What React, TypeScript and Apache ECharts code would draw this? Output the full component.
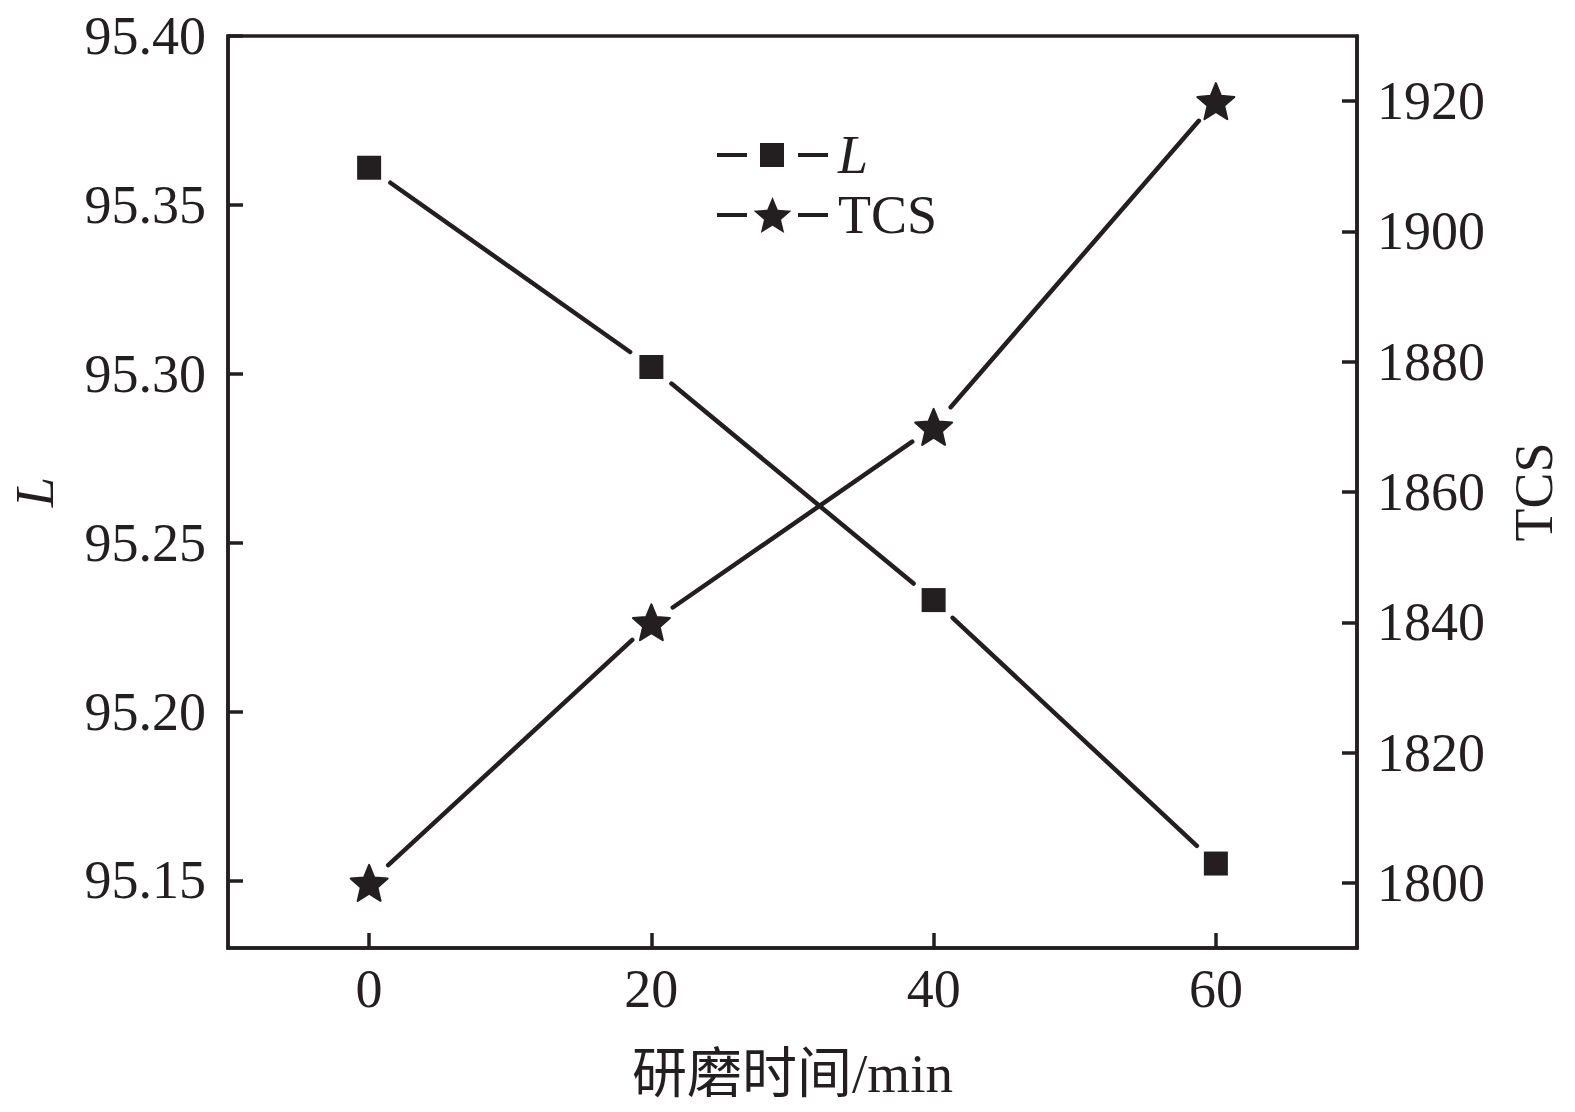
import React, { useEffect, useRef } from "react";
import * as echarts from "echarts";

const times = [0, 20, 40, 60];
const lValues = [95.361, 95.302, 95.233, 95.155];
const tcsValues = [1800, 1840, 1870, 1920];
const xTicks = [0, 20, 40, 60];
const leftTicks = [95.15, 95.2, 95.25, 95.3, 95.35, 95.4];
const rightTicks = [1800, 1820, 1840, 1860, 1880, 1900, 1920];
const xTitle = "研磨时间/min";
const leftTitle = "L";
const rightTitle = "TCS";

const INK = "#231f20";
const FONT = "'Liberation Serif', 'Times New Roman', 'Noto Sans CJK SC', serif";
const GAP = 26;

const STAR =
  "path://M55.5,0 L60.77,12.65 L74.43,13.75 L64.02,22.67 L67.2,36 L55.5,28.86 L43.8,36 L46.98,22.67 L36.57,13.75 L50.23,12.65 Z";
const LEG_SQUARE =
  "path://M0,10 L30,10 L30,14 L0,14 Z M43,0 L67,0 L67,24 L43,24 Z M81,10 L111,10 L111,14 L81,14 Z";
const LEG_STAR =
  "path://M0,16 L30,16 L30,20 L0,20 Z M55.5,0 L60.77,12.65 L74.43,13.75 L64.02,22.67 L67.2,36 L55.5,28.86 L43.8,36 L46.98,22.67 L36.57,13.75 L50.23,12.65 Z M81,16 L111,16 L111,20 L81,20 Z";

function segments(xs: number[], ys: number[]) {
  const out: number[][] = [];
  for (let i = 0; i < xs.length - 1; i++) out.push([xs[i], ys[i], xs[i + 1], ys[i + 1]]);
  return out;
}

function gapLine(params: any, api: any) {
  const a = api.coord([api.value(0), api.value(1)]);
  const b = api.coord([api.value(2), api.value(3)]);
  const dx = b[0] - a[0];
  const dy = b[1] - a[1];
  const len = Math.sqrt(dx * dx + dy * dy);
  const ux = dx / len;
  const uy = dy / len;
  return {
    type: "line",
    shape: {
      x1: a[0] + ux * GAP,
      y1: a[1] + uy * GAP,
      x2: b[0] - ux * GAP,
      y2: b[1] - uy * GAP,
    },
    style: { stroke: INK, lineWidth: 4.5, lineCap: "round" },
  };
}

const axisCommon = {
  axisLine: { show: true, onZero: false, lineStyle: { color: INK, width: 3.5 } },
  axisTick: { show: true, inside: true, length: 15, lineStyle: { color: INK, width: 3.5 } },
  splitLine: { show: false },
  nameTextStyle: { color: INK, fontFamily: FONT, fontSize: 54 },
};

export default function App() {
  const ref = useRef<HTMLDivElement>(null);
  useEffect(() => {
    if (!ref.current) return;
    const chart = echarts.init(ref.current, null, { renderer: "svg" });
    const lPoints = times.map((t, i) => [t, lValues[i]]);
    const tPoints = times.map((t, i) => [t, tcsValues[i]]);
    chart.setOption({
      animation: false,
      backgroundColor: "#ffffff",
      textStyle: { fontFamily: FONT, color: INK },
      grid: {
        left: 225,
        top: 36,
        right: 218,
        bottom: 164,
        show: true,
        borderColor: INK,
        borderWidth: 3.5,
        backgroundColor: "transparent",
      },
      legend: [
        {
          data: [{ name: "L", icon: LEG_SQUARE }],
          left: 712,
          top: 123,
          itemWidth: 111,
          itemHeight: 24,
          formatter: () => "{i|" + leftTitle + "}",
          textStyle: {
            color: INK,
            fontFamily: FONT,
            fontSize: 54,
            rich: { i: { fontStyle: "italic", fontFamily: FONT, fontSize: 54, color: INK, padding: [0, 0, 0, 5] } },
          },
          itemStyle: { color: INK, borderWidth: 0 },
        },
        {
          data: [{ name: "TCS", icon: LEG_STAR }],
          left: 712,
          top: 183,
          itemWidth: 111,
          itemHeight: 36,
          textStyle: { color: INK, fontFamily: FONT, fontSize: 54, padding: [0, 0, 0, 5] },
          itemStyle: { color: INK, borderWidth: 0 },
        },
      ],
      xAxis: {
        type: "value",
        min: -10,
        max: 70,
        ...axisCommon,
        axisTick: { ...axisCommon.axisTick, customValues: xTicks },
        axisLabel: {
          customValues: xTicks,
          color: INK,
          fontFamily: FONT,
          fontSize: 54,
          margin: 14,
        },
        name: xTitle,
        nameLocation: "middle",
        nameGap: 98,
        nameTextStyle: { ...axisCommon.nameTextStyle, fontSize: 55 },
      },
      yAxis: [
        {
          type: "value",
          position: "left",
          min: 95.13,
          max: 95.4,
          ...axisCommon,
          axisTick: { ...axisCommon.axisTick, customValues: leftTicks },
          axisLabel: {
            customValues: leftTicks,
            formatter: (v: number) => v.toFixed(2),
            color: INK,
            fontFamily: FONT,
            fontSize: 54,
            margin: 22,
          },
          name: leftTitle,
          nameLocation: "middle",
          nameGap: 166,
          nameTextStyle: { ...axisCommon.nameTextStyle, fontStyle: "italic" },
        },
        {
          type: "value",
          position: "right",
          min: 1790,
          max: 1930,
          ...axisCommon,
          axisTick: { ...axisCommon.axisTick, customValues: rightTicks },
          axisLabel: {
            customValues: rightTicks,
            formatter: (v: number) => String(v),
            color: INK,
            fontFamily: FONT,
            fontSize: 54,
            margin: 20,
          },
          name: rightTitle,
          nameLocation: "middle",
          nameGap: 150,
          nameRotate: 90,
        },
      ],
      series: [
        {
          type: "custom",
          yAxisIndex: 0,
          renderItem: gapLine,
          data: segments(times, lValues),
          encode: { x: [0, 2], y: [1, 3] },
          silent: true,
        },
        {
          type: "custom",
          yAxisIndex: 1,
          renderItem: gapLine,
          data: segments(times, tcsValues),
          encode: { x: [0, 2], y: [1, 3] },
          silent: true,
        },
        {
          name: "L",
          type: "scatter",
          yAxisIndex: 0,
          symbol: "rect",
          symbolSize: 24,
          itemStyle: { color: INK, opacity: 1 },
          data: lPoints,
        },
        {
          name: "TCS",
          type: "scatter",
          yAxisIndex: 1,
          symbol: STAR,
          symbolSize: [37, 36],
          itemStyle: { color: INK, opacity: 1, borderColor: INK, borderWidth: 2, borderJoin: "round" },
          data: tPoints,
        },
      ],
    });
    return () => chart.dispose();
  }, []);
  return (
    <div
      ref={ref}
      style={{ position: "absolute", left: 0, top: 0, width: 1575, height: 1112, background: "#fff" }}
    />
  );
}
